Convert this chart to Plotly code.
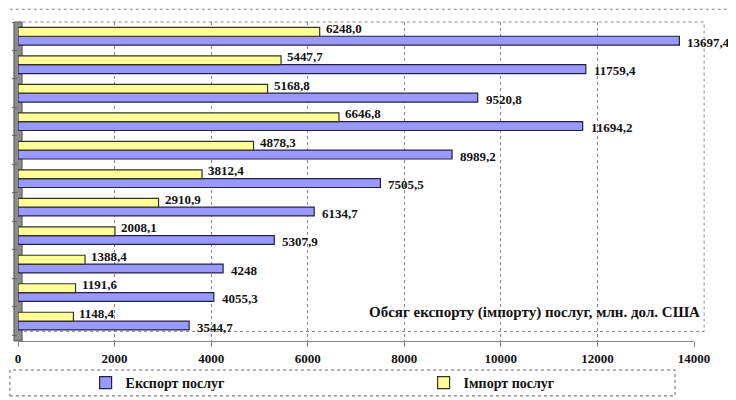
import plotly.graph_objects as go

# Data (bottom category first)
export_vals = [3544.7, 4055.3, 4248, 5307.9, 6134.7, 7505.5, 8989.2, 11694.2, 9520.8, 11759.4, 13697.4]
import_vals = [1148.4, 1191.6, 1388.4, 2008.1, 2910.9, 3812.4, 4878.3, 6646.8, 5168.8, 5447.7, 6248.0]
series_names = ["Експорт послуг", "Імпорт послуг"]
x_ticks = [0, 2000, 4000, 6000, 8000, 10000, 12000, 14000]
chart_note = "Обсяг експорту (імпорту) послуг, млн. дол. США"

cats = list(range(len(export_vals)))

def fmt(v):
    return "<b>" + str(v).replace(".", ",") + "</b>"

FONT = "Liberation Serif"
BLUE = "#9999FF"
YELLOW = "#FFFF99"

fig = go.Figure()
fig.add_trace(go.Bar(
    y=cats, x=export_vals, orientation="h", name="<b>" + series_names[0] + "</b>",
    marker=dict(color=BLUE, line=dict(color="#222244", width=1.2)),
    legend="legend",
))
fig.add_trace(go.Bar(
    y=cats, x=import_vals, orientation="h", name="<b>" + series_names[1] + "</b>",
    marker=dict(color=YELLOW, line=dict(color="#333322", width=1.2)),
    legend="legend2",
))

annotations = []
for c, v in zip(cats, export_vals):
    annotations.append(dict(x=v, y=c, xref="x", yref="y", text=fmt(v), showarrow=False,
                            xanchor="left", yanchor="middle", xshift=6, yshift=-6,
                            font=dict(family=FONT, size=13, color="#111111")))
for c, v in zip(cats, import_vals):
    annotations.append(dict(x=v, y=c, xref="x", yref="y", text=fmt(v), showarrow=False,
                            xanchor="left", yanchor="middle", xshift=4, yshift=8,
                            font=dict(family=FONT, size=13, color="#111111")))
annotations.append(dict(x=1.012, y=0.09, xref="paper", yref="paper", text="<b>" + chart_note + "</b>",
                        showarrow=False, xanchor="right", yanchor="middle",
                        font=dict(family=FONT, size=15, color="#111111")))

shapes = [
    # top dotted line
    dict(type="line", xref="paper", yref="paper", x0=-0.03, x1=1.07, y0=1.04, y1=1.04,
         line=dict(color="#888888", width=1, dash="dot")),
    # back plane frame
    dict(type="rect", xref="paper", yref="paper", x0=0.0, x1=1.015, y0=0.03, y1=1.0,
         line=dict(color="#888888", width=1, dash="dot"), layer="below"),
    # left wall
    dict(type="rect", xref="paper", yref="paper", x0=-0.006, x1=0.006, y0=0.0, y1=1.0,
         fillcolor="#8c8c8c", line=dict(color="#555555", width=1), layer="below"),
    # legend box
    dict(type="rect", xref="paper", yref="paper", x0=-0.012, x1=0.972, y0=-0.172, y1=-0.091,
         line=dict(color="#666666", width=1, dash="dot")),
]

legend_common = dict(orientation="h", y=-0.132, xanchor="left", yanchor="middle",
                     font=dict(family=FONT, size=14, color="#111111"),
                     bgcolor="rgba(0,0,0,0)", borderwidth=0)

fig.update_layout(
    width=728, height=392,
    margin=dict(l=10, r=42, t=14, b=59, autoexpand=False),
    paper_bgcolor="white", plot_bgcolor="white",
    barmode="group", bargap=0.38, bargroupgap=0.0,
    font=dict(family=FONT, size=11, color="black"),
    showlegend=True,
    legend=dict(x=0.1, **legend_common),
    legend2=dict(x=0.6, **legend_common),
    xaxis=dict(range=[0, 14000], tickvals=x_ticks, ticktext=["<b>" + str(t) + "</b>" for t in x_ticks],
               showgrid=True, gridcolor="#888888", griddash="dot", gridwidth=1,
               zeroline=False, showline=True, linecolor="#888888",
               ticks="outside", ticklen=5, tickcolor="#888888",
               tickfont=dict(family=FONT, size=13, color="#111111")),
    yaxis=dict(range=[-0.7, 10.5], showticklabels=False, showgrid=False, zeroline=False,
               tickvals=[c - 0.5 for c in cats] + [cats[-1] + 0.5],
               ticks="outside", ticklen=5, tickcolor="#666666", showline=False),
    annotations=annotations,
    shapes=shapes,
)

fig.write_html("out.html")
